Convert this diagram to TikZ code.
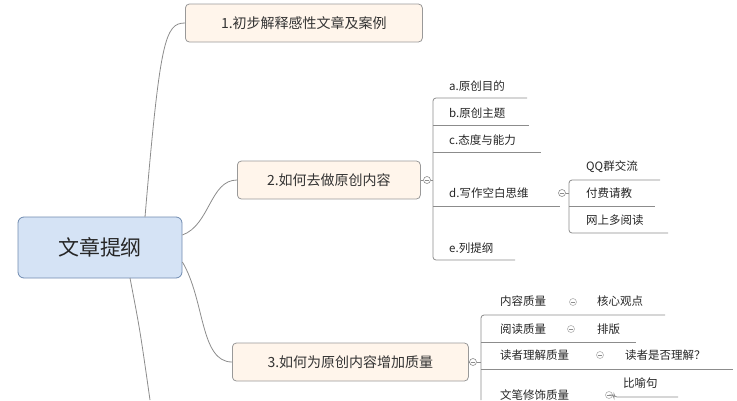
\documentclass[tikz,border=0pt]{standalone}
\usepackage{fontspec}
\setmainfont{Noto Sans CJK SC}
\definecolor{rootfill}{HTML}{D5E3F5}
\definecolor{rootdraw}{HTML}{6F8BB0}
\begin{document}
\begin{tikzpicture}[x=1pt,y=-1pt,
  ln/.style={draw=black!45,line width=0.8pt},
  topic/.style={draw=black!40,fill=orange!8,rounded corners=4pt,line width=0.8pt,font=\fontsize{14}{16}\selectfont,text=black!80,anchor=west,minimum height=38pt,inner xsep=9pt},
  sub/.style={font=\fontsize{11.5}{13}\selectfont,anchor=west,inner sep=0pt,text=black!85},
  col/.style={circle,draw=black!45,fill=white,minimum size=7pt,inner sep=0pt,line width=0.6pt,path picture={\draw[black!45,line width=0.6pt] ([xshift=-2pt]path picture bounding box.center) -- ([xshift=2pt]path picture bounding box.center);}}]
\useasboundingbox (0,0) rectangle (737,400);
\node[draw=rootdraw,fill=rootfill,rounded corners=6pt,minimum width=164pt,minimum height=61pt,font=\fontsize{21}{23}\selectfont,text=black!85,line width=0.8pt] (root) at (100,247.5) {文章提纲};
\node[topic,minimum width=237pt] (t1) at (185,23) {1.初步解释感性文章及案例};
\node[topic,minimum width=183pt] (t2) at (237,180) {2.如何去做原创内容};
\node[topic,minimum width=236pt] (t3) at (232,362) {3.如何为原创内容增加质量};
\coordinate (r1) at (145,217);
\coordinate (r4) at (130,278);
\coordinate (e4) at (150,400);
\draw[ln] (r1) .. controls (160,40) and (165,23) .. (t1.west);
\draw[ln] (root.east |- 0,235) .. controls (210,225) and (210,180) .. (t2.west);
\draw[ln] (root.east |- 0,262) .. controls (205,300) and (200,362) .. (t3.west);
\draw[ln] (r4) .. controls (140,330) .. (e4);
% branch 2
\node[col] (c2) at (427,180) {};
\draw[ln] (t2.east) -- (c2);
\node[sub] (a) at (449,86) {a.原创目的};
\node[sub] (b) at (449,113) {b.原创主题};
\node[sub] (c) at (449,140) {c.态度与能力};
\node[sub] (d) at (449,193) {d.写作空白思维};
\node[sub] (e) at (449,248) {e.列提纲};
\draw[ln,rounded corners=3pt] (527,98) -- (433,98) -- (433,260) -- (515,260);
\draw[ln] (c2) -- (433,180);
\draw[ln] (433,125) -- (529,125);
\draw[ln] (433,152) -- (541,152);
\draw[ln] (433,206) -- (560,206);
\node[col] (cd) at (562,193) {};
\node[sub] (q1) at (586,167) {QQ群交流};
\node[sub] (q2) at (586,193) {付费请教};
\node[sub] (q3) at (586,220) {网上多阅读};
\draw[ln,rounded corners=3pt] (660,180) -- (569,180) -- (569,233) -- (668,233);
\draw[ln] (cd) -- (569,193);
\draw[ln] (569,206) -- (655,206);
% branch 3
\node[col] (c3) at (473,362) {};
\draw[ln] (t3.east) -- (c3);
\draw[ln] (c3) -- (481,362);
\draw[ln,rounded corners=3pt] (665,315) -- (481,315) -- (481,400);
\draw[ln] (481,342) -- (636,342);
\draw[ln] (481,369) -- (733,369);
\node[sub] (p1) at (500,301) {内容质量};
\node[sub] (p2) at (500,329) {阅读质量};
\node[sub] (p3) at (500,355) {读者理解质量};
\node[sub] (p4) at (500,395) {文笔修饰质量};
\node[col,draw=black!30] (k1) at (573,302) {};
\node[col,draw=black!30] (k2) at (571,329) {};
\node[col,draw=black!30] (k3) at (600,355) {};
\node[col,draw=black!30] (k4) at (609,395) {};
\node[sub] (s1) at (597,301) {核心观点};
\node[sub] (s2) at (597,329) {排版};
\node[sub] (s3) at (625,355) {读者是否理解？};
\node[sub] (s4) at (623,383) {比喻句};
\draw[ln,rounded corners=3pt] (k4) -- (614,395) -- (614,397) -- (678,397);
\end{tikzpicture}
\end{document}
